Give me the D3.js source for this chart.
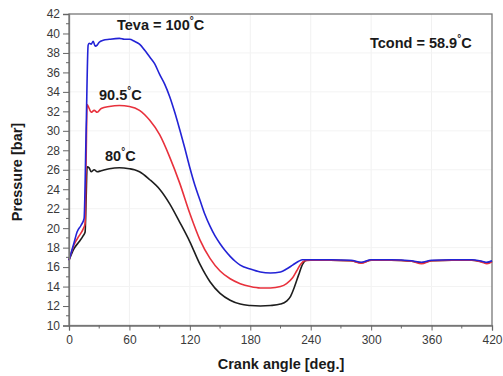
<!DOCTYPE html>
<html><head><meta charset="utf-8">
<script src="https://cdn.jsdelivr.net/npm/d3@7"></script>
<style>body{margin:0;background:#fff;}svg{display:block;font-family:"Liberation Sans",Arial,sans-serif;}</style>
</head><body>
<svg id="c" width="503" height="376"></svg>
<script>
const xTicks = [0, 60, 120, 180, 240, 300, 360, 420];
const yTicks = [10,12,14,16,18,20,22,24,26,28,30,32,34,36,38,40,42];
const flatAngles = [240, 260, 280, 290, 300, 320, 340, 350, 360, 380, 400, 410, 415, 420];
const flatBlack  = [16.7, 16.7, 16.65, 16.45, 16.7, 16.7, 16.6, 16.45, 16.65, 16.7, 16.7, 16.55, 16.45, 16.6];
const flatRed    = [16.7, 16.7, 16.65, 16.4, 16.7, 16.7, 16.6, 16.35, 16.65, 16.7, 16.7, 16.5, 16.35, 16.55];
const flatBlue   = [16.75, 16.75, 16.7, 16.5, 16.75, 16.75, 16.65, 16.5, 16.7, 16.75, 16.75, 16.6, 16.5, 16.65];

const angBlack = [0,5,10,14,16,17,18,20,22,25,28,32,40,50,60,65,70,80,90,100,110,120,130,140,150,160,170,180,190,200,210,216,220,224,228,232,236];
const pBlack   = [16.7,17.9,18.6,19.2,19.6,23,26.3,26.2,25.8,26.0,25.8,25.9,26.1,26.2,26.1,26.0,25.8,25.0,24.0,22.5,20.6,18.6,16.3,14.5,13.3,12.6,12.2,12.05,12.0,12.05,12.2,12.5,13.0,14.0,15.2,16.3,16.7];

const angRed = [0,5,10,14,16,17,18,20,22,25,28,32,40,50,60,70,80,90,100,110,120,130,140,150,160,170,180,190,200,210,216,222,226,230,234];
const pRed   = [16.7,18.3,19.2,19.9,20.5,27,32.7,32.3,31.9,32.1,31.9,32.3,32.5,32.6,32.5,32.1,31.1,29.6,27.3,24.6,21.5,18.8,16.9,15.6,14.8,14.3,14.0,13.85,13.85,14.0,14.3,14.9,15.6,16.3,16.65];

const angBlue = [0,5,8,12,15,17,19,20,22,24,26,28,30,34,40,50,55,60,65,70,75,80,85,90,95,100,105,110,115,120,125,130,135,140,145,150,155,160,165,170,180,190,200,210,216,222,228,232];
const pBlue   = [16.7,18.5,19.6,20.3,21,30,38.8,39.0,38.9,39.2,38.7,38.8,39.1,39.3,39.4,39.5,39.4,39.4,39.2,38.9,38.3,37.6,36.9,35.8,34.8,33.5,31.9,30.1,28.2,26.2,24.4,22.9,21.4,20.2,19.2,18.4,17.7,17.1,16.6,16.2,15.8,15.5,15.4,15.5,15.8,16.2,16.6,16.75];

const seriesNames = ["80°C", "90.5°C", "Teva = 100°C"];
const seriesColors = ["#1e1e1e", "#e8313c", "#2323d6"];

const svg = d3.select("#c");
const x = d3.scaleLinear().domain([0, 420]).range([69, 492]);
const y = d3.scaleLinear().domain([10, 42]).range([325.5, 14]);

// faint grid
const g = svg.append("g");
g.selectAll("line.gx").data(xTicks.slice(1, -1)).enter().append("line")
  .attr("x1", d => x(d)).attr("x2", d => x(d)).attr("y1", y(10)).attr("y2", y(42))
  .attr("stroke", "#f1f1f1").attr("stroke-width", 1);
g.selectAll("line.gy").data(yTicks.filter(d => d % 4 === 2 && d > 10 && d < 42)).enter().append("line")
  .attr("x1", x(0)).attr("x2", x(420)).attr("y1", d => y(d)).attr("y2", d => y(d))
  .attr("stroke", "#f3f3f3").attr("stroke-width", 1);

// frame
svg.append("rect").attr("x", x(0)).attr("y", y(42)).attr("width", x(420) - x(0)).attr("height", y(10) - y(42))
  .attr("fill", "none").attr("stroke", "#777").attr("stroke-width", 1.3);

// curves
const line = d3.line().x(d => x(d[0])).y(d => y(d[1])).curve(d3.curveMonotoneX);
function build(a, p, fp) { return a.map((v, i) => [v, p[i]]).concat(flatAngles.map((v, i) => [v, fp[i]])); }
const data = [build(angBlack, pBlack, flatBlack), build(angRed, pRed, flatRed), build(angBlue, pBlue, flatBlue)];
data.forEach((d, i) => {
  svg.append("path").datum(d).attr("d", line).attr("fill", "none")
    .attr("stroke", seriesColors[i]).attr("stroke-width", 1.6).attr("stroke-linejoin", "round");
});

// axes
const yAxis = d3.axisLeft(y).tickValues(yTicks).tickSize(6).tickPadding(3).tickFormat(d3.format("d"));
const ya = svg.append("g").attr("transform", `translate(${x(0)},0)`).call(yAxis);
const yMinor = d3.range(11, 42, 2);
svg.append("g").selectAll("line").data(yMinor).enter().append("line")
  .attr("x1", x(0) - 3).attr("x2", x(0)).attr("y1", d => y(d)).attr("y2", d => y(d))
  .attr("stroke", "#666").attr("stroke-width", 1);
const xAxis = d3.axisBottom(x).tickValues(xTicks).tickSize(5).tickPadding(5);
const xa = svg.append("g").attr("transform", `translate(0,${y(10)})`).call(xAxis);
svg.append("g").selectAll("line").data(d3.range(30, 420, 60)).enter().append("line")
  .attr("x1", d => x(d)).attr("x2", d => x(d)).attr("y1", y(10)).attr("y2", y(10) + 3)
  .attr("stroke", "#666").attr("stroke-width", 1);
[ya, xa].forEach(a => {
  a.select(".domain").attr("stroke", "#777").attr("stroke-width", 1.3);
  a.selectAll(".tick line").attr("stroke", "#666");
  a.selectAll(".tick text").attr("fill", "#3a3a3a").style("font-size", "12px").style("font-family", "Liberation Sans, Arial, sans-serif");
});

// annotations with superscript degree
function label(xp, yp, pre, post, anchor) {
  const t = svg.append("text").attr("x", xp).attr("y", yp).attr("text-anchor", anchor || "start")
    .attr("font-weight", "bold").attr("font-size", 14.5).attr("fill", "#1a1a1a");
  t.append("tspan").text(pre);
  t.append("tspan").attr("dy", -6).attr("font-size", 10).text("°");
  t.append("tspan").attr("dy", 6).text(post);
}
label(117, 30, seriesNames[2].replace("°C", ""), "C");
label(99, 100, seriesNames[1].replace("°C", ""), "C");
label(105, 161, seriesNames[0].replace("°C", ""), "C");
label(370, 48, "Tcond = 58.9", "C");

svg.append("text").attr("x", 281).attr("y", 369).attr("text-anchor", "middle")
  .attr("font-weight", "bold").attr("font-size", 14.5).attr("fill", "#1a1a1a").text("Crank angle [deg.]");
svg.append("text").attr("transform", "translate(22,172) rotate(-90)").attr("text-anchor", "middle")
  .attr("font-weight", "bold").attr("font-size", 14.5).attr("fill", "#1a1a1a").text("Pressure [bar]");
</script>
</body></html>
